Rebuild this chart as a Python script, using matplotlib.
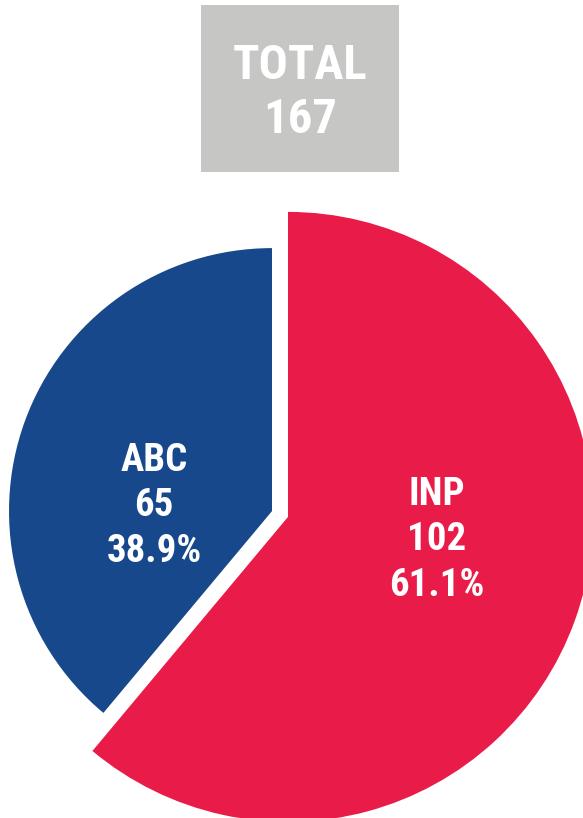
import matplotlib
matplotlib.use("Agg")
import matplotlib.pyplot as plt
from matplotlib.patches import Rectangle
from matplotlib import font_manager

names = {f.name for f in font_manager.fontManager.ttflist}
cond_pref = ['Roboto Condensed', 'Liberation Sans Narrow', 'Noto Sans Condensed',
             'Open Sans Condensed', 'DejaVu Sans Condensed']
fam = [n for n in cond_pref if n in names]
# families that have a condensed face registered
cond_fams = sorted({f.name for f in font_manager.fontManager.ttflist
                    if str(f.stretch) in ('condensed', 'semi-condensed', 'extra-condensed', '75', '87.5', '62.5')})
fam += [n for n in ['Roboto', 'Noto Sans', 'Open Sans', 'DejaVu Sans'] if n in cond_fams]
fam += ['DejaVu Sans']

categories = ["INP", "ABC"]
values = [102, 65]
percents = ["61.1%", "38.9%"]
colors = ["#E91B48", "#18488C"]
total_label = "TOTAL"
total_value = sum(values)

W, H = 583, 818
fig = plt.figure(figsize=(W / 100, H / 100), dpi=100)
ax = fig.add_axes([0, 0, 1, 1])

cx, cy = 280, H - 514
wedges, _ = ax.pie(values, colors=colors, startangle=90, counterclock=False,
                   radius=305, center=(cx, cy), explode=[8.5, 8.5],
                   frame=True, wedgeprops=dict(linewidth=0))
wedges[1].set_radius(263)
ax.set_xlim(0, W)
ax.set_ylim(0, H)
ax.set_aspect('equal')
ax.axis('off')

# labels
label_pos = [(437, 540), (154, 506)]
for (x, y), cat, v, p in zip(label_pos, categories, values, percents):
    ax.text(x, H - y, f"{cat}\n{v}\n{p}", ha='center', va='center', color='white',
            fontsize=28, fontweight='bold', family=fam, fontstretch='condensed',
            linespacing=1.3)

# total box
ax.add_patch(Rectangle((201, H - 172), 198, 167, facecolor='#C6C6C5', edgecolor='none'))
ax.text(300, H - 93, f"{total_label}\n{total_value}", ha='center', va='center', color='white',
        fontsize=35, fontweight='bold', family=fam, fontstretch='condensed',
        linespacing=1.2)

fig.savefig("out.png", dpi=100)
